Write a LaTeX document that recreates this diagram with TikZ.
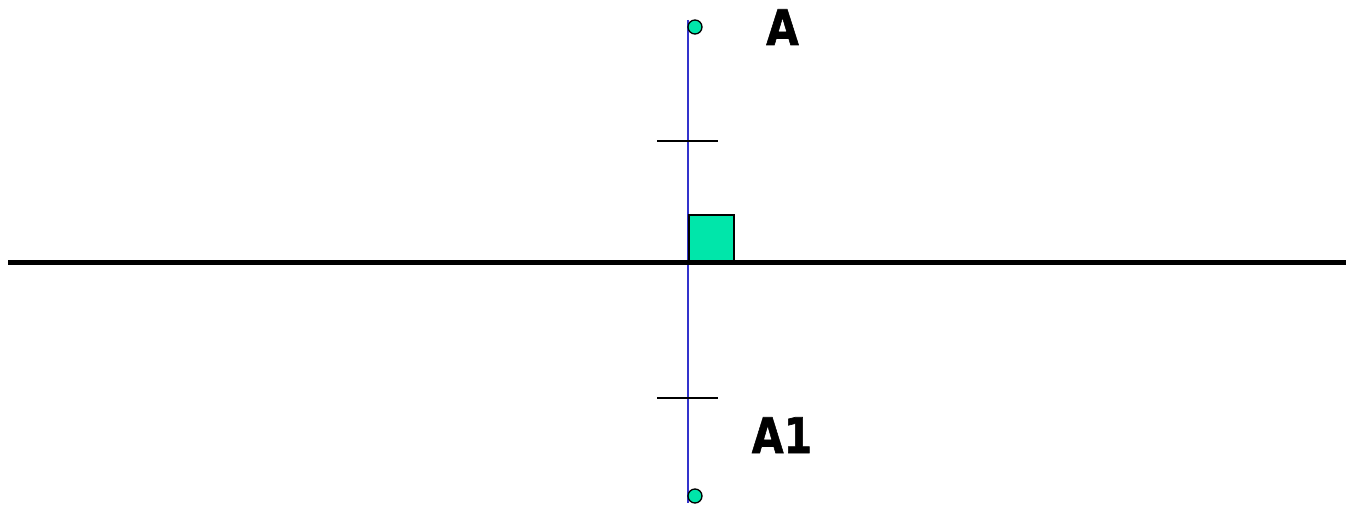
\documentclass[tikz,border=0pt]{standalone}
\usepackage{fontspec}
\setmainfont{DejaVu Sans}[BoldFeatures={FakeBold=1.2}]
\usetikzlibrary{positioning}
\definecolor{ptfill}{HTML}{00E6AA}
\definecolor{axblue}{HTML}{3333CC}

\begin{document}
\begin{tikzpicture}[x=1pt,y=-1pt,
  pt/.style={draw,fill=ptfill,circle,minimum size=14pt,inner sep=0pt,line width=1.3pt},
  lbl/.style={font=\fontsize{49}{49}\selectfont\bfseries,inner sep=0pt,anchor=base},
  tick/.style={line width=1.5pt},
  perp/.style={axblue,line width=1.8pt}]
\useasboundingbox (0,0) rectangle (1346,505);
\coordinate (ptop) at (688,20);
\coordinate (pbot) at (688,503);
\coordinate (ml) at (8,262);
\coordinate (mr) at (1346,262);
\coordinate (foot) at (688,262);

\draw[perp] (ptop) -- (pbot);
\draw[line width=5pt] (ml) -- (mr);
\node[draw,fill=ptfill,line width=2pt,minimum width=45pt,minimum height=46pt,
  inner sep=0pt,anchor=south west] (sq) at (foot) {};

% equal-length marks
\draw[tick] (657,141) coordinate (t1l) -- (718,141) coordinate (t1r);
\draw[tick] (657,398) coordinate (t2l) -- (718,398) coordinate (t2r);

\node[pt] (A) at (695,27) {};
\node[pt] (A1) at (695,496) {};
\node[lbl] (la) at (782.5,45) {\scalebox{0.86}[1]{A}};
\node[lbl] (la1) at (782,453) {\scalebox{0.84}[1]{A1}};
\end{tikzpicture}
\end{document}
